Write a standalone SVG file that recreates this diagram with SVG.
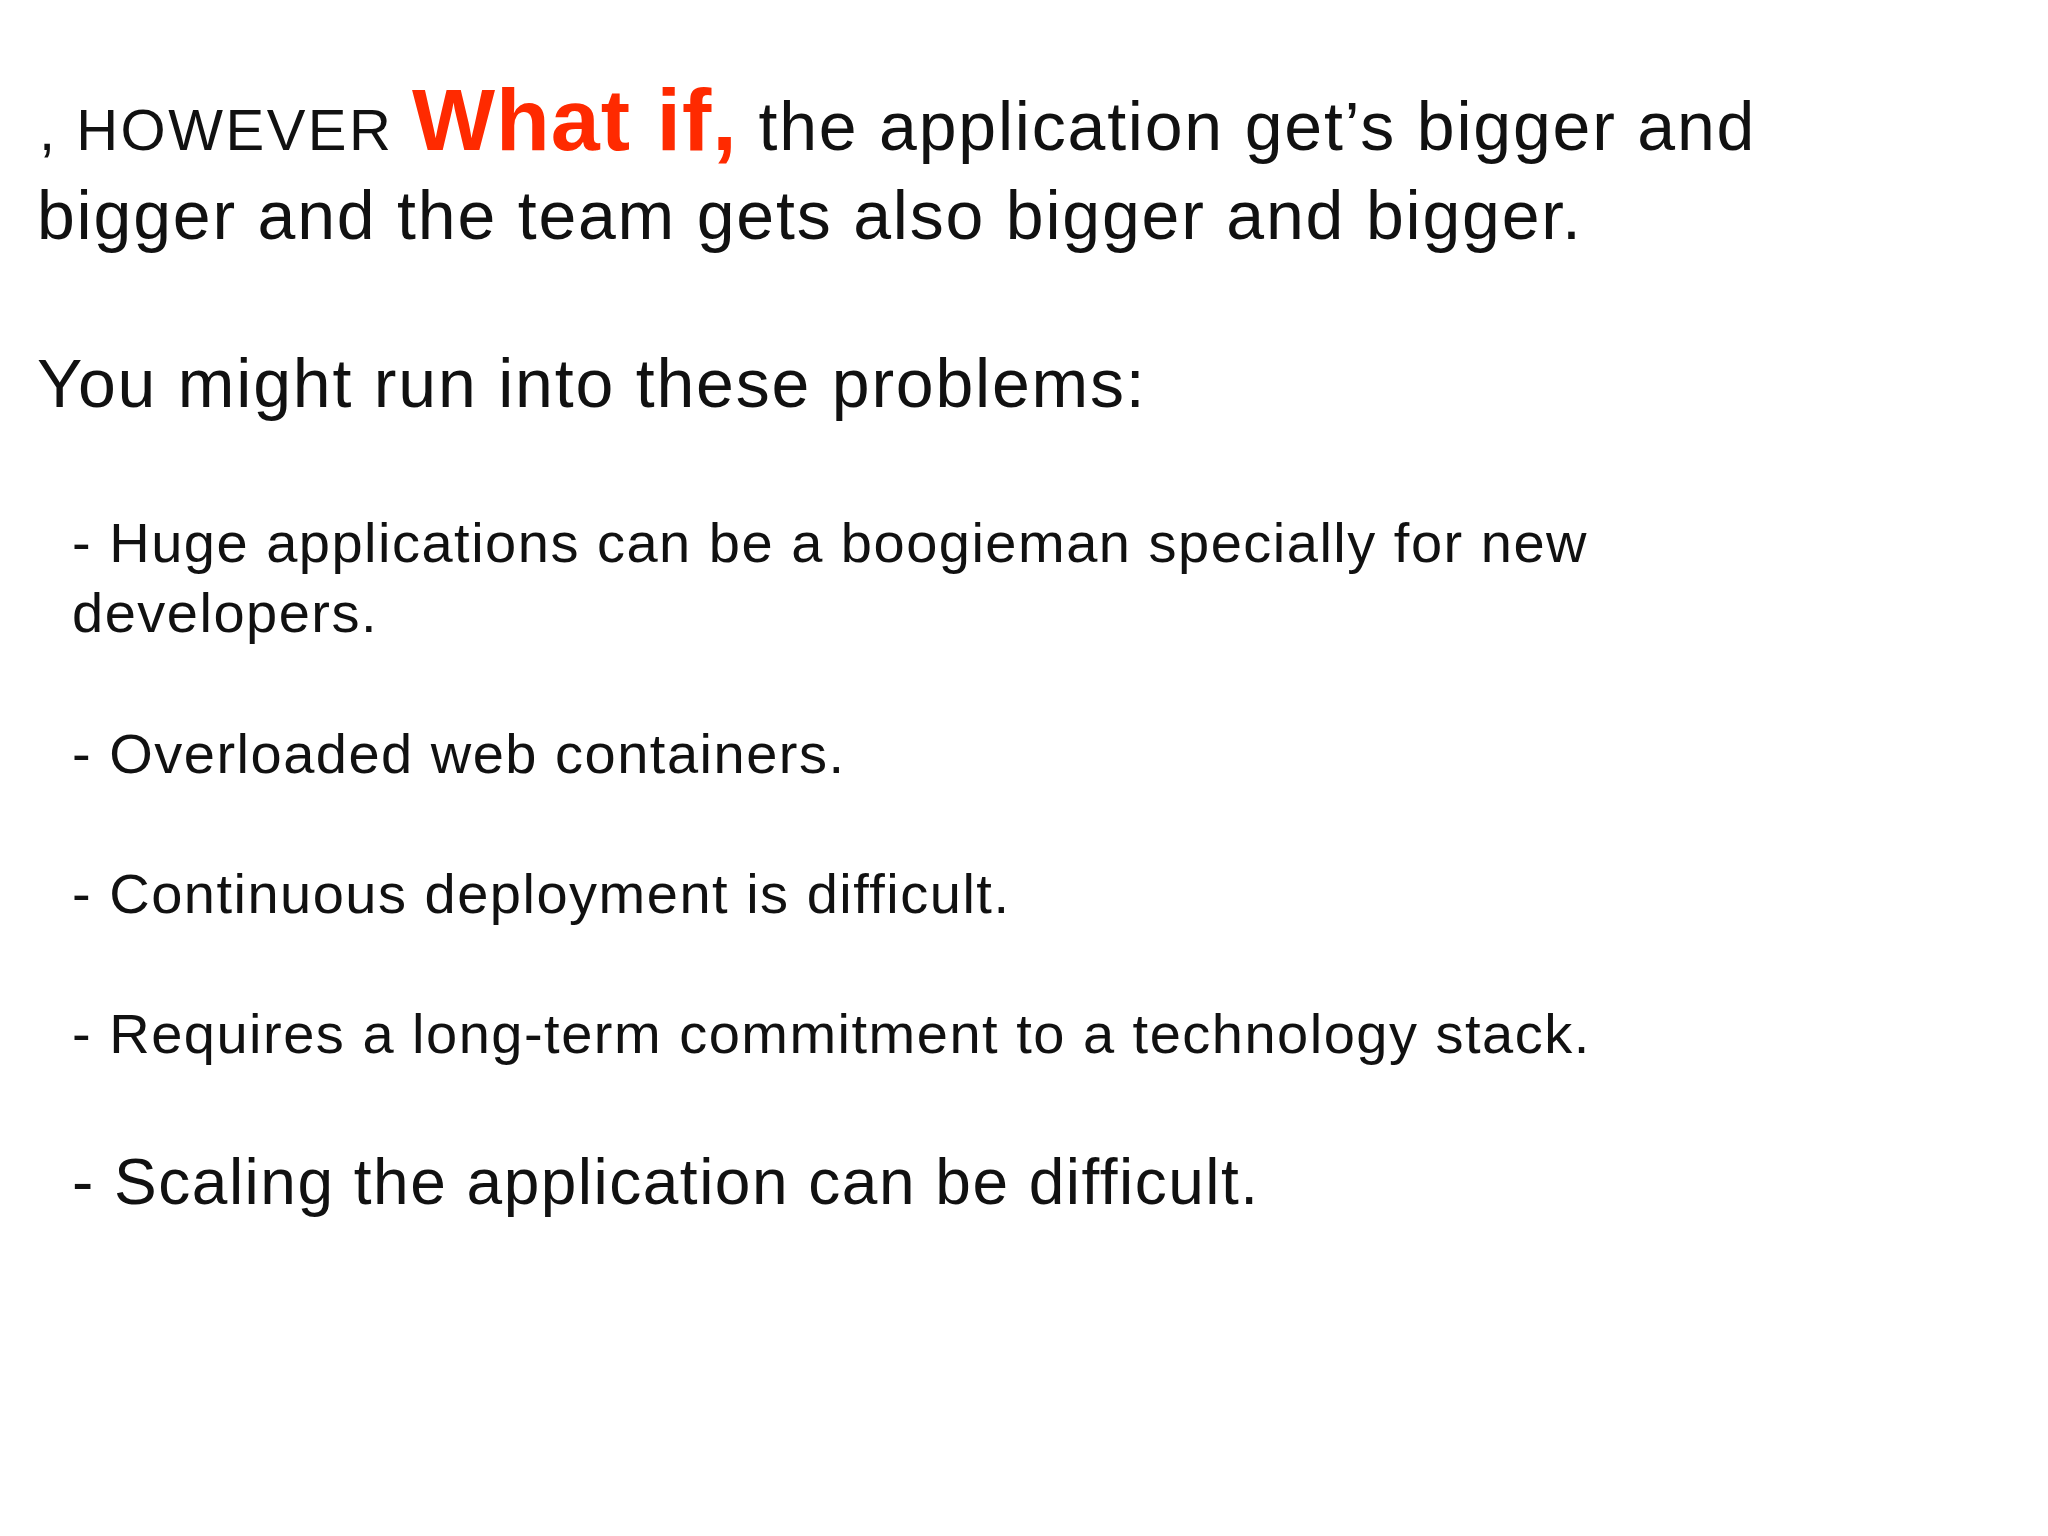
<svg xmlns="http://www.w3.org/2000/svg" width="2048" height="1536" viewBox="0 0 2048 1536">
<style>
text{font-family:"Liberation Sans",Arial,sans-serif;fill:#111}
.big{font-size:68px;letter-spacing:1.8px}
.item{font-size:56px;letter-spacing:1.5px}
.red{fill:#ff2a00;font-weight:bold;font-size:88px;letter-spacing:1px}
</style>
<rect width="2048" height="1536" fill="#ffffff"/>
<g id="heading">
<text x="39" y="150" class="big"><tspan font-size="58px" letter-spacing="2.5px">, HOWEVER </tspan><tspan class="red">What if,</tspan> the application get’s bigger and</text>
<text x="37" y="239" class="big">bigger and the team gets also bigger and bigger.</text>
<text x="37" y="407" class="big">You might run into these problems:</text>
</g>
<g id="problems">
<text x="72" y="562" class="item">- Huge applications can be a boogieman specially for new</text>
<text x="72" y="632" class="item">developers.</text>
<text x="72" y="773" class="item">- Overloaded web containers.</text>
<text x="72" y="913" class="item">- Continuous deployment is difficult.</text>
<text x="72" y="1053" class="item">- Requires a long-term commitment to a technology stack.</text>
<text x="72" y="1204" font-size="64px" letter-spacing="1.5px">- Scaling the application can be difficult.</text>
</g>
</svg>
